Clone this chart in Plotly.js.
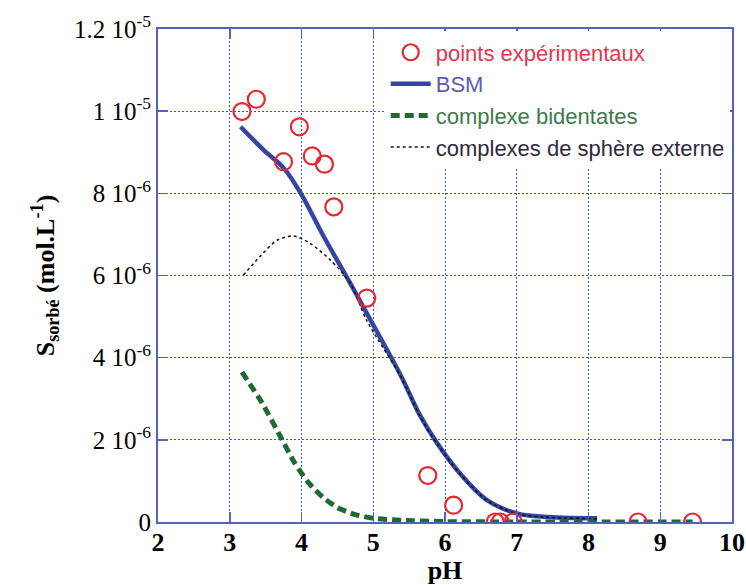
<!DOCTYPE html>
<html>
<head>
<meta charset="utf-8">
<script src="https://cdn.plot.ly/plotly-3.0.1.min.js"></script>
<style>html,body{margin:0;padding:0;background:#fff;}</style>
</head>
<body>
<div id="chart" style="width:746px;height:585px;"></div>
<script>
// Experimental points
const expPH = [3.17, 3.37, 3.75, 3.97, 4.15, 4.32, 4.45, 4.91, 5.76, 6.12, 6.70, 6.77, 6.95, 8.69, 9.45];
const expS  = [9.99e-6, 10.29e-6, 8.77e-6, 9.62e-6, 8.91e-6, 8.71e-6, 7.67e-6, 5.45e-6, 1.13e-6, 0.41e-6, 0, 0, 0, 0, 0];

// BSM model
const bsmPH = [3.15, 3.47, 3.75, 3.99, 4.31, 4.68, 4.91, 5.38, 5.65, 5.89, 6.21, 6.58, 7.00, 7.37, 8.12];
const bsmS  = [9.62e-6, 9.06e-6, 8.62e-6, 8.00e-6, 6.95e-6, 5.81e-6, 5.08e-6, 3.58e-6, 2.60e-6, 1.92e-6, 1.18e-6, 0.54e-6, 0.21e-6, 0.13e-6, 0.09e-6];

// Bidentate complexes
const bidPH = [3.17, 3.45, 3.70, 3.90, 4.10, 4.30, 4.50, 4.75, 5.00, 5.40, 6.00, 7.00, 9.45];
const bidS  = [3.65e-6, 2.90e-6, 2.10e-6, 1.45e-6, 0.95e-6, 0.60e-6, 0.35e-6, 0.18e-6, 0.09e-6, 0.04e-6, 0.01e-6, 0, 0];

// Outer-sphere complexes
const extPH = [3.19, 3.42, 3.66, 3.89, 4.12, 4.40, 4.68, 4.91, 5.38, 5.65, 5.89, 6.21, 6.58, 7.00, 7.37, 8.12];
const extS  = [6.01e-6, 6.46e-6, 6.86e-6, 6.96e-6, 6.78e-6, 6.38e-6, 5.81e-6, 4.90e-6, 3.55e-6, 2.58e-6, 1.90e-6, 1.17e-6, 0.53e-6, 0.20e-6, 0.12e-6, 0.08e-6];

const xTicks = [2, 3, 4, 5, 6, 7, 8, 9, 10];
const yTicks = [0, 2e-6, 4e-6, 6e-6, 8e-6, 1e-5, 1.2e-5];
const yTickText = ['0', '2 10<sup>-6</sup>', '4 10<sup>-6</sup>', '6 10<sup>-6</sup>', '8 10<sup>-6</sup>', '1 10<sup>-5</sup>', '1.2 10<sup>-5</sup>'];

const names = {
  exp: '<span style="color:#e8344e">points expérimentaux</span>',
  bsm: '<span style="color:#5a5ab4">BSM</span>',
  bid: '<span style="color:#3d7a4a">complexe bidentates</span>',
  ext: '<span style="color:#2e2a3e">complexes de sphère externe</span>'
};

const axisBlue = '#5264b4';
const gridBlue = '#2f4fd6';

const traces = [
  {x: bsmPH, y: bsmS, mode: 'lines', name: names.bsm, legendrank: 2,
   line: {color: '#3446a0', width: 4.5, shape: 'spline', smoothing: 1}},
  {x: bidPH, y: bidS, mode: 'lines', name: names.bid, legendrank: 3,
   line: {color: '#1f6a33', width: 5, dash: '9px,5px', shape: 'spline', smoothing: 0.6}},
  {x: extPH, y: extS, mode: 'lines', name: names.ext, legendrank: 4,
   line: {color: '#111111', width: 1.5, dash: '3px,3px', shape: 'spline', smoothing: 0.8}},
  {x: expPH, y: expS, mode: 'markers', name: names.exp, legendrank: 1,
   marker: {symbol: 'circle-open', size: 17, color: '#e82630', line: {width: 2.2, color: '#e82630'}}}
];

const layout = {
  width: 746, height: 585,
  margin: {l: 158, r: 14, t: 29, b: 63},
  paper_bgcolor: '#ffffff', plot_bgcolor: '#ffffff',
  showlegend: true,
  legend: {
    x: 0.996, xanchor: 'right', y: 0.995, yanchor: 'top',
    bgcolor: '#ffffff', borderwidth: 0,
    font: {family: 'Liberation Sans, Arial, sans-serif', size: 22, color: '#333'},
    itemwidth: 40, tracegroupgap: 0
  },
  xaxis: {
    range: [2, 10], tickmode: 'array', tickvals: xTicks,
    ticks: 'inside', ticklen: 10, tickwidth: 1.5, tickcolor: axisBlue,
    showline: true, linecolor: axisBlue, linewidth: 2, mirror: 'ticks',
    showgrid: true, gridcolor: gridBlue, gridwidth: 1, griddash: '2px,2px',
    zeroline: false, ticklabelstandoff: -4,
    tickfont: {family: 'Liberation Serif, Times New Roman, serif', size: 26, color: '#000', weight: 'bold'},
    title: {text: '<b>pH</b>', font: {family: 'Liberation Serif, Times New Roman, serif', size: 26, color: '#000'}, standoff: 4}
  },
  yaxis: {
    range: [0, 1.2e-5], tickmode: 'array', tickvals: yTicks, ticktext: yTickText,
    ticks: 'inside', ticklen: 10, tickwidth: 1.5, tickcolor: axisBlue,
    showline: true, linecolor: axisBlue, linewidth: 2, mirror: 'ticks',
    showgrid: true, gridcolor: gridBlue, gridwidth: 1, griddash: '2px,2px',
    zeroline: false,
    tickfont: {family: 'Liberation Serif, Times New Roman, serif', size: 25, color: '#000'},
    title: {text: '<b>S<sub>sorbé</sub> (mol.L<sup>-1</sup>)</b>', font: {family: 'Liberation Serif, Times New Roman, serif', size: 26, color: '#000'}, standoff: 12}
  }
};

Plotly.newPlot('chart', traces, layout, {staticPlot: true, displayModeBar: false});
</script>
</body>
</html>
